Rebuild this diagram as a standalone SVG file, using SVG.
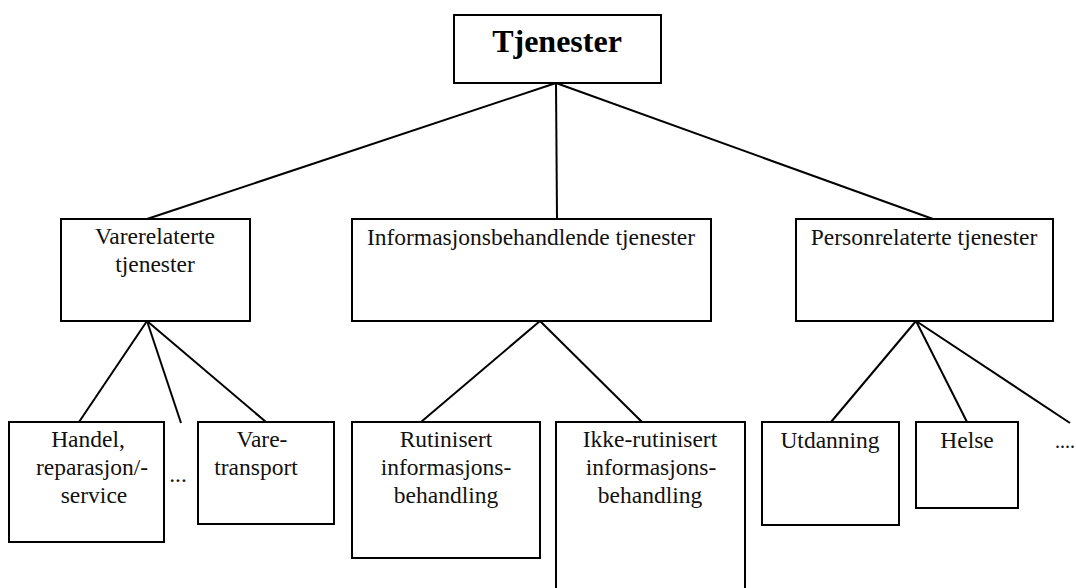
<svg xmlns="http://www.w3.org/2000/svg" width="1076" height="588" viewBox="0 0 1076 588">
<style>
.box{fill:#fff;stroke:#000;stroke-width:2}
.ln{stroke:#000;stroke-width:2;fill:none}
.t{font-family:"Liberation Serif","Times New Roman",serif;font-size:23.5px;fill:#111;text-anchor:middle}
.tb{font-family:"Liberation Serif","Times New Roman",serif;font-size:32px;font-weight:bold;fill:#000;text-anchor:middle}
</style>
<rect width="1076" height="588" fill="#fff"/>
<g id="connectors">
<line class="ln" x1="556" y1="83" x2="147" y2="219"/>
<line class="ln" x1="556" y1="83" x2="557" y2="219"/>
<line class="ln" x1="556" y1="83" x2="933" y2="219"/>
<line class="ln" x1="147" y1="321" x2="79" y2="422"/>
<line class="ln" x1="147" y1="321" x2="181" y2="423"/>
<line class="ln" x1="147" y1="321" x2="266" y2="422"/>
<line class="ln" x1="540" y1="321" x2="421" y2="422"/>
<line class="ln" x1="540" y1="321" x2="642" y2="422"/>
<line class="ln" x1="916" y1="321" x2="831" y2="422"/>
<line class="ln" x1="916" y1="321" x2="967" y2="422"/>
<line class="ln" x1="916" y1="321" x2="1070" y2="423"/>
</g>
<g id="tjenester">
<rect class="box" x="454" y="15" width="207" height="68"/>
<text class="tb" x="557" y="52">Tjenester</text>
</g>
<g id="varerelaterte">
<rect class="box" x="61" y="219" width="189" height="102"/>
<text class="t" x="155" y="244">Varerelaterte</text>
<text class="t" x="155" y="272">tjenester</text>
</g>
<g id="informasjon">
<rect class="box" x="352" y="219" width="359" height="102"/>
<text class="t" x="531" y="245">Informasjonsbehandlende tjenester</text>
</g>
<g id="personrelaterte">
<rect class="box" x="796" y="219" width="257" height="102"/>
<text class="t" x="924" y="245">Personrelaterte tjenester</text>
</g>
<g id="handel">
<rect class="box" x="9" y="422" width="155" height="120"/>
<text class="t" x="88" y="447">Handel,</text>
<text class="t" x="92" y="475">reparasjon/-</text>
<text class="t" x="94" y="502.5">service</text>
</g>
<g id="dots1">
<text class="t" x="178" y="482">...</text>
</g>
<g id="varetransport">
<rect class="box" x="198" y="422" width="136" height="102"/>
<text class="t" x="262" y="447">Vare-</text>
<text class="t" x="256" y="475">transport</text>
</g>
<g id="rutinisert">
<rect class="box" x="352" y="422" width="188" height="136"/>
<text class="t" x="446" y="447">Rutinisert</text>
<text class="t" x="446" y="475">informasjons-</text>
<text class="t" x="446" y="502.5">behandling</text>
</g>
<g id="ikkerutinisert">
<rect class="box" x="556" y="422" width="189" height="180"/>
<text class="t" x="650" y="447">Ikke-rutinisert</text>
<text class="t" x="651" y="475">informasjons-</text>
<text class="t" x="650" y="502.5">behandling</text>
</g>
<g id="utdanning">
<rect class="box" x="762" y="422" width="137" height="103"/>
<text class="t" x="830" y="448">Utdanning</text>
</g>
<g id="helse">
<rect class="box" x="916" y="422" width="102" height="86"/>
<text class="t" x="967" y="448">Helse</text>
</g>
<g id="dots2">
<text class="t" x="1055" y="448" style="text-anchor:start;font-size:20px">....</text>
</g>
</svg>
